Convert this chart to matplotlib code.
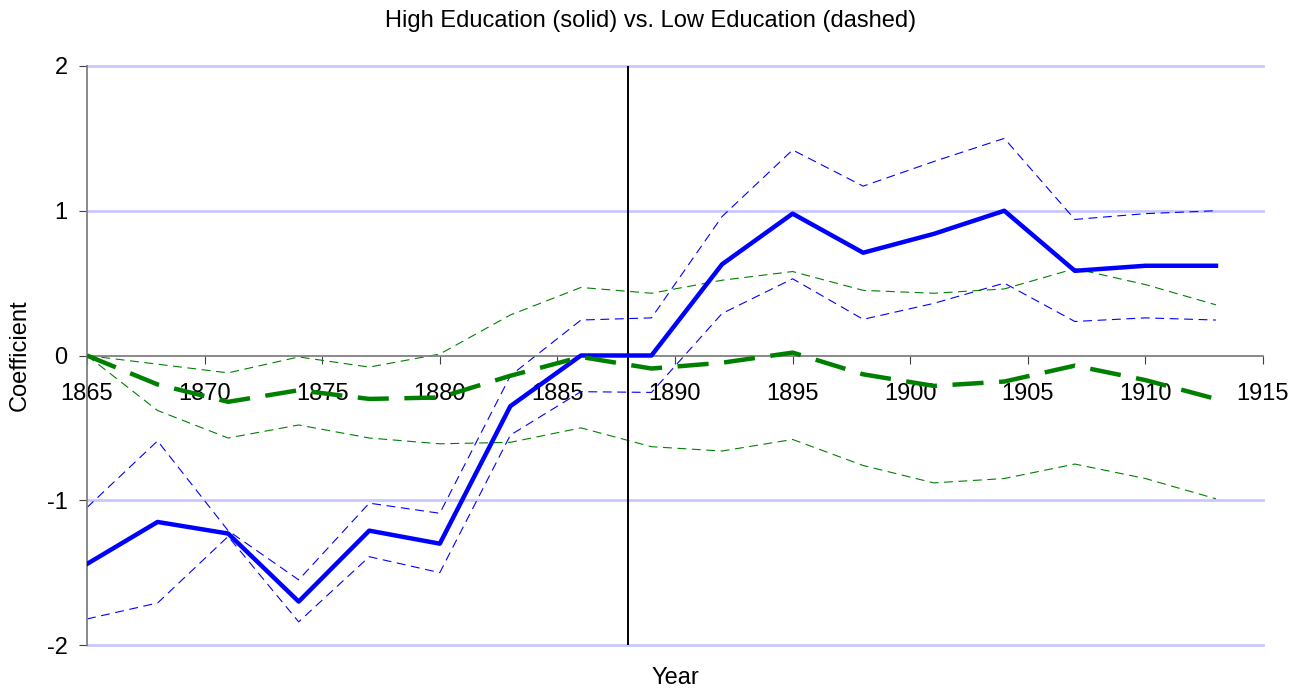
import numpy as np
import matplotlib.pyplot as plt

plt.rcParams['font.family'] = ['Liberation Sans', 'DejaVu Sans']

years = [1865, 1868, 1871, 1874, 1877, 1880, 1883, 1886, 1889,
         1892, 1895, 1898, 1901, 1904, 1907, 1910, 1913]

# high education: coefficient and band
high = [-1.44, -1.15, -1.23, -1.70, -1.21, -1.30, -0.35, 0.0, 0.0,
        0.63, 0.98, 0.71, 0.84, 1.00, 0.585, 0.62, 0.62]
high_up = [-1.05, -0.59, -1.21, -1.55, -1.02, -1.09, -0.14, 0.245, 0.26,
           0.96, 1.42, 1.17, 1.34, 1.50, 0.94, 0.98, 1.00]
high_lo = [-1.82, -1.71, -1.25, -1.84, -1.39, -1.50, -0.55, -0.25, -0.255,
           0.29, 0.53, 0.25, 0.36, 0.50, 0.235, 0.26, 0.245]

# low education: coefficient and band
low = [0.0, -0.20, -0.32, -0.24, -0.30, -0.29, -0.14, -0.01, -0.09,
       -0.05, 0.02, -0.13, -0.21, -0.18, -0.07, -0.17, -0.30]
low_up = [0.0, -0.06, -0.12, -0.01, -0.08, 0.01, 0.28, 0.47, 0.43,
          0.52, 0.58, 0.45, 0.43, 0.46, 0.60, 0.49, 0.35]
low_lo = [0.0, -0.38, -0.57, -0.48, -0.57, -0.61, -0.60, -0.50, -0.63,
          -0.66, -0.58, -0.76, -0.88, -0.85, -0.75, -0.85, -0.99]

xticks = [1865, 1870, 1875, 1880, 1885, 1890, 1895, 1900, 1905, 1910, 1915]
yticks = [-2, -1, 0, 1, 2]
break_year = 1888

fig = plt.figure(figsize=(13.02, 6.93), dpi=100)
ax = fig.add_axes([87/1302, 1-645/693, (1263-87)/1302, (645-66)/693])

for y in yticks:
    if y != 0:
        ax.axhline(y, color='#c8c8ff', lw=2, zorder=0, clip_on=False)

thin = (0, (8, 5))
ax.plot(years, high_up, color='#0000ff', lw=0.8, ls=thin)
ax.plot(years, high_lo, color='#0000ff', lw=0.8, ls=thin)
ax.plot(years, low_up, color='#008000', lw=0.8, ls=thin)
ax.plot(years, low_lo, color='#008000', lw=0.8, ls=thin)
ax.plot(years, high, color='#0000ff', lw=3.2, zorder=4)
ax.plot(years, low, color='#008000', lw=3.2, ls=(0, (7, 3.5)), zorder=4)

ax.axvline(break_year, color='black', lw=1.4, zorder=3)

ax.set_xlim(1865, 1915)
ax.set_ylim(-2, 2)
ax.set_xticks(xticks)
ax.set_yticks(yticks)
ax.set_yticklabels([str(v) for v in yticks])

ax.spines['top'].set_visible(False)
ax.spines['right'].set_visible(False)
ax.spines['bottom'].set_position(('data', 0))
ax.spines['bottom'].set_color('#808080')
ax.spines['left'].set_color('#808080')
ax.spines['bottom'].set_linewidth(1.3)
ax.spines['left'].set_linewidth(1.3)
ax.tick_params(axis='x', direction='out', length=6, pad=14, labelsize=17, color='#404040')
ax.tick_params(axis='y', direction='out', length=6, pad=8, labelsize=17, color='#404040')

fig.text(0.5, 1-21/693, 'High Education (solid) vs. Low Education (dashed)',
         ha='center', va='center', fontsize=17)
fig.text(675/1302, 1-678/693, 'Year', ha='center', va='center', fontsize=17)
fig.text(20/1302, 1-355/693, 'Coefficient', ha='center', va='center',
         rotation=90, fontsize=17)

fig.savefig('out.png', dpi=100)
